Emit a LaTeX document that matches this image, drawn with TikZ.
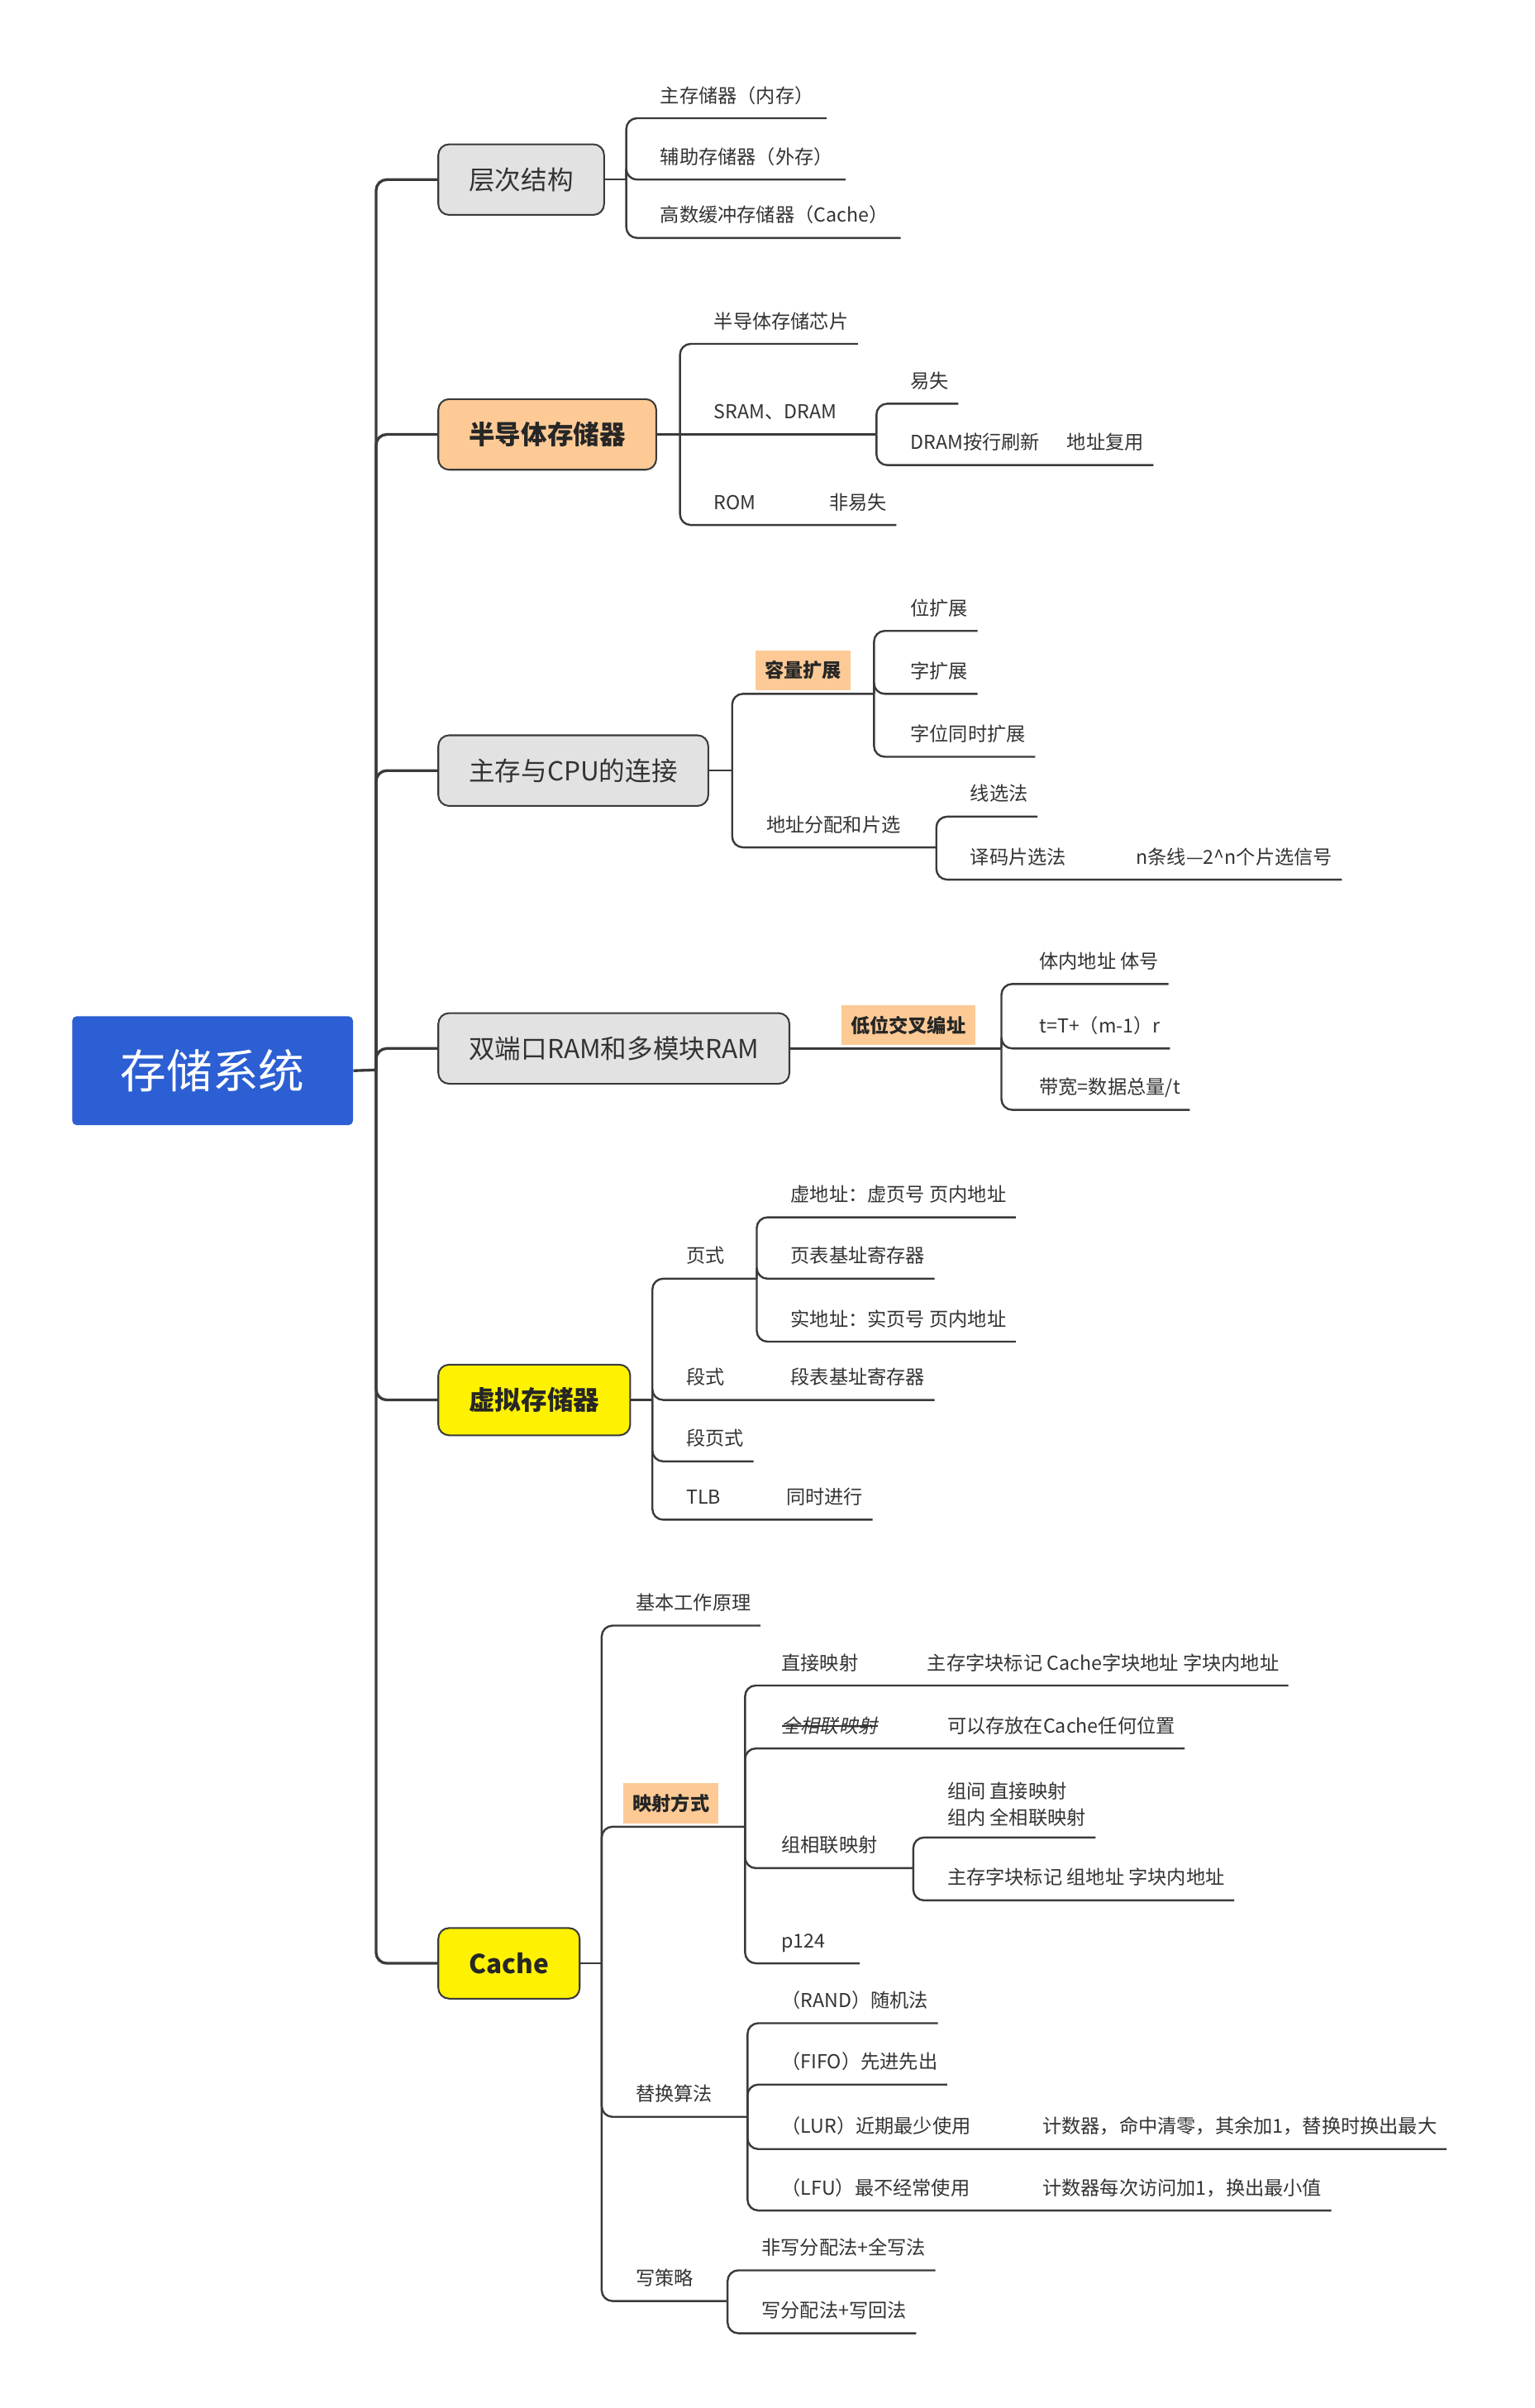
\documentclass[tikz,border=0pt]{standalone}
\usepackage{fontspec}
\usepackage{tikz}
\usetikzlibrary{
    calc,
    positioning
}
\newfontfamily\cjk{Noto Sans CJK SC}
\newfontfamily\cjkslant[FakeSlant=0.2]{Noto Sans CJK SC}
\newsavebox\strikebox
\newcommand{\strikeout}[1]{\sbox\strikebox{#1}\rlap{\usebox\strikebox}\rule[0.32em]{\wd\strikebox}{0.7pt}}
\definecolor{rootblue}{HTML}{2C5FD3}
\definecolor{boxgray}{HTML}{E2E2E2}
\definecolor{boxpeach}{HTML}{FDCA96}
\definecolor{boxyellow}{HTML}{FFF200}
\definecolor{linegray}{HTML}{3A3A3A}
\definecolor{textgray}{HTML}{333333}
\tikzset{
    root/.style={fill=rootblue, text=white, rounded corners=3pt, minimum width=183pt, minimum height=71pt, font=\cjk\fontsize{30}{34}\selectfont},
    topic/.style={draw=linegray, line width=1.1pt, rounded corners=7pt, anchor=west, inner xsep=20pt, minimum height=46pt, text=textgray, font=\cjk\fontsize{17}{20}\selectfont},
    graytopic/.style={topic, fill=boxgray},
    peachtopic/.style={topic, fill=boxpeach, text=black!85, font=\cjk\bfseries\fontsize{17}{20}\selectfont},
    yellowtopic/.style={topic, fill=boxyellow, text=black!85, font=\cjk\bfseries\fontsize{17}{20}\selectfont},
    leaf/.style={anchor=south west, inner xsep=0pt, inner ysep=7pt, text height=10pt, text depth=3pt, text=textgray, font=\cjk\fontsize{12.5}{17}\selectfont},
    leafml/.style={anchor=south west, inner xsep=0pt, inner ysep=7pt, align=left, text=textgray, font=\cjk\fontsize{12.5}{17}\selectfont},
    tag/.style={anchor=south west, fill=boxpeach, inner xsep=6pt, inner ysep=0pt, minimum height=26pt, text=black!85, font=\cjk\bfseries\fontsize{12.5}{15}\selectfont},
    trunk/.style={draw=linegray, line width=1.8pt, rounded corners=7pt},
    link/.style={draw=linegray, line width=1.3pt, rounded corners=7pt}
}

\begin{document}
\begin{tikzpicture}[x=1pt, y=-1pt]
    \useasboundingbox (0,0) rectangle (1000,1568.7);
    % root and main topics
    \node[root] (sys) at (138.5,697.5) {存储系统};
    \coordinate (jr) at (245,697);
    \draw[trunk] (sys.east) -- (jr);
    \node[graytopic] (lvl) at (285,117) {层次结构};
    \node[peachtopic] (semi) at (285,283) {半导体存储器};
    \node[graytopic] (conn) at (285,502) {主存与CPU的连接};
    \node[graytopic] (dual) at (285,683) {双端口RAM和多模块RAM};
    \node[yellowtopic] (virt) at (285,912) {虚拟存储器};
    \node[yellowtopic] (cache) at (285,1279) {Cache};
    \foreach \t in {lvl,semi,conn,dual,virt,cache}
        \draw[trunk] (jr) |- (\t.west);

    % 层次结构
    \coordinate (j1) at (408,117);
    \draw[link] (lvl.east) -- (j1);
    \node[leaf] (lvl1) at (430,77) {主存储器（内存）};
    \node[leaf] (lvl2) at (430,117) {辅助存储器（外存）};
    \node[leaf] (lvl3) at (430,155) {高数缓冲存储器（Cache）};
    \foreach \k in {lvl1,lvl2,lvl3}
        \draw[link] (j1) |- (\k.south west) -- ([xshift=8pt]\k.south east);

    % 半导体存储器
    \coordinate (j2) at (443,283);
    \draw[link] (semi.east) -- (j2);
    \node[leaf] (semi1) at (465,224) {半导体存储芯片};
    \node[leaf] (semi2) at (465,283) {SRAM、DRAM};
    \node[leaf] (semi3) at (465,342) {\makebox[75pt][l]{ROM}非易失};
    \coordinate (j21) at (571,283);
    \foreach \k in {semi1,semi3}
        \draw[link] (j2) |- (\k.south west) -- ([xshift=6pt]\k.south east);
    \draw[link] (j2) -- (semi2.south west) -- (j21);
    \node[leaf] (semi21) at (593,263) {易失};
    \node[leaf] (semi22) at (593,303) {\makebox[102pt][l]{DRAM按行刷新}地址复用};
    \foreach \k in {semi21,semi22}
        \draw[link] (j21) |- (\k.south west) -- ([xshift=6pt]\k.south east);

    % 主存与CPU的连接
    \coordinate (j3) at (477,502);
    \draw[link] (conn.east) -- (j3);
    \node[tag] (cap) at (492,450) {容量扩展};
    \coordinate (j31) at ([xshift=15pt,yshift=-2pt]cap.south east);
    \draw[link] (j3) |- (j31);
    \node[leaf] (cap1) at (593,411) {位扩展};
    \node[leaf] (cap2) at (593,452) {字扩展};
    \node[leaf] (cap3) at (593,493) {字位同时扩展};
    \foreach \k in {cap1,cap2,cap3}
        \draw[link] (j31) |- (\k.south west) -- ([xshift=6pt]\k.south east);
    \node[leaf] (addr) at (499,552) {地址分配和片选};
    \coordinate (j32) at (610,552);
    \draw[link] (j3) |- (addr.south west) -- (j32);
    \node[leaf] (addr1) at (632,532) {线选法};
    \node[leaf] (addr2) at (632,573) {\makebox[108pt][l]{译码片选法}n条线—2\textasciicircum n个片选信号};
    \foreach \k in {addr1,addr2}
        \draw[link] (j32) |- (\k.south west) -- ([xshift=6pt]\k.south east);

    % 双端口RAM和多模块RAM
    \node[tag] (low) at (548,681) {低位交叉编址};
    \coordinate (j4) at ([xshift=17pt,yshift=-2pt]low.south east);
    \draw[link] (dual.east) -- (j4);
    \node[leaf] (dual1) at (677,641) {体内地址 体号};
    \node[leaf] (dual2) at (677,683) {t=T+（m-1）r};
    \node[leaf] (dual3) at (677,723) {带宽=数据总量/t};
    \foreach \k in {dual1,dual2,dual3}
        \draw[link] (j4) |- (\k.south west) -- ([xshift=6pt]\k.south east);

    % 虚拟存储器
    \coordinate (j5) at (425,912);
    \draw[link] (virt.east) -- (j5);
    \node[leaf] (page) at (447,833) {页式};
    \coordinate (j51) at (493,833);
    \draw[link] (j5) |- (page.south west) -- (j51);
    \node[leaf] (page1) at (515,793) {虚地址：虚页号 页内地址};
    \node[leaf] (page2) at (515,833) {页表基址寄存器};
    \node[leaf] (page3) at (515,874) {实地址：实页号 页内地址};
    \foreach \k in {page1,page2,page3}
        \draw[link] (j51) |- (\k.south west) -- ([xshift=6pt]\k.south east);
    \node[leaf] (seg) at (447,912) {\makebox[68pt][l]{段式}段表基址寄存器};
    \node[leaf] (segp) at (447,952) {段页式};
    \node[leaf] (tlb) at (447,990) {\makebox[65pt][l]{TLB}同时进行};
    \foreach \k in {seg,segp,tlb}
        \draw[link] (j5) |- (\k.south west) -- ([xshift=6pt]\k.south east);

    % Cache
    \coordinate (j6) at (392,1279);
    \draw[link] (cache.east) -- (j6);
    \node[leaf] (basic) at (414,1059) {基本工作原理};
    \draw[link] (j6) |- (basic.south west) -- ([xshift=6pt]basic.south east);
    \node[tag] (map) at (406,1188) {映射方式};
    \coordinate (j61) at ([xshift=17pt,yshift=-2pt]map.south east);
    \draw[link] (j6) |- (j61);
    \node[leaf] (map1) at (509,1098) {\makebox[95pt][l]{直接映射}主存字块标记 Cache字块地址 字块内地址};
    \node[leaf] (map2) at (509,1139) {\makebox[108pt][l]{\cjkslant\strikeout{全相联映射}}可以存放在Cache任何位置};
    \node[leaf] (map4) at (509,1279) {p124\hspace*{16pt}};
    \foreach \k in {map1,map2,map4}
        \draw[link] (j61) |- (\k.south west) -- ([xshift=6pt]\k.south east);
    \node[leaf] (map3) at (509,1217) {组相联映射};
    \coordinate (j62) at (595,1217);
    \draw[link] (j61) |- (map3.south west) -- (j62);
    \node[leafml] (set1) at (617,1197) {组间 直接映射\\组内 全相联映射};
    \node[leaf] (set2) at (617,1238) {主存字块标记 组地址 字块内地址};
    \foreach \k in {set1,set2}
        \draw[link] (j62) |- (\k.south west) -- ([xshift=6pt]\k.south east);
    \node[leaf] (repl) at (414,1379) {替换算法};
    \coordinate (j63) at (487,1379);
    \draw[link] (j6) |- (repl.south west) -- (j63);
    \node[leaf] (repl1) at (509,1318) {（RAND）随机法};
    \node[leaf] (repl2) at (509,1358) {（FIFO）先进先出};
    \node[leaf] (repl3) at (509,1400) {\makebox[170pt][l]{（LUR）近期最少使用}计数器，命中清零，其余加1，替换时换出最大};
    \node[leaf] (repl4) at (509,1440) {\makebox[170pt][l]{（LFU）最不经常使用}计数器每次访问加1，换出最小值};
    \foreach \k in {repl1,repl2,repl3,repl4}
        \draw[link] (j63) |- (\k.south west) -- ([xshift=6pt]\k.south east);
    \node[leaf] (write) at (414,1499) {写策略};
    \coordinate (j64) at (474,1499);
    \draw[link] (j6) |- (write.south west) -- (j64);
    \node[leaf] (write1) at (496,1479) {非写分配法+全写法};
    \node[leaf] (write2) at (496,1520) {写分配法+写回法};
    \foreach \k in {write1,write2}
        \draw[link] (j64) |- (\k.south west) -- ([xshift=6pt]\k.south east);
\end{tikzpicture}
\end{document}
